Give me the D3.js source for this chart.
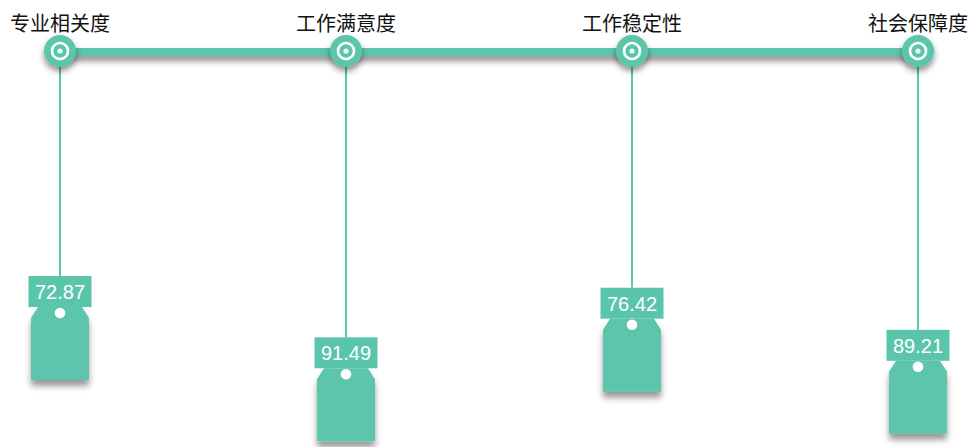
<!DOCTYPE html>
<html><head><meta charset="utf-8">
<script src="https://cdn.jsdelivr.net/npm/d3@7"></script>
<style>html,body{margin:0;padding:0;background:#fff;}</style>
</head><body>
<svg id="chart" width="972" height="447"></svg>
<script>
const categories = ["专业相关度", "工作满意度", "工作稳定性", "社会保障度"];
const values = [72.87, 91.49, 76.42, 89.21];

const color = "#5bc5ac";
const svg = d3.select("#chart");
const defs = svg.append("defs");
const f = defs.append("filter").attr("id","shadow").attr("x","-50%").attr("y","-50%").attr("width","200%").attr("height","200%");
f.append("feDropShadow").attr("dx",0).attr("dy",4).attr("stdDeviation",3).attr("flood-color","#000").attr("flood-opacity",0.45);
const f2 = defs.append("filter").attr("id","shadow2").attr("x","-50%").attr("y","-50%").attr("width","200%").attr("height","200%");
f2.append("feDropShadow").attr("dx",0).attr("dy",6).attr("stdDeviation",3).attr("flood-color","#000").attr("flood-opacity",0.4);
const f3 = defs.append("filter").attr("id","shadowLine").attr("filterUnits","userSpaceOnUse")
  .attr("x",0).attr("y",0).attr("width",972).attr("height",120);
f3.append("feDropShadow").attr("dx",0).attr("dy",5).attr("stdDeviation",3).attr("flood-color","#000").attr("flood-opacity",0.45);

const x = d3.scalePoint().domain(categories).range([60, 918]);
const y = d3.scaleLinear().domain([0, 100]).range([36.3, 365.3]);
const lineY = 52, nodeY = 51;

// horizontal line
svg.append("rect").attr("x", x(categories[0])).attr("width", x(categories[categories.length-1]) - x(categories[0]))
  .attr("y", lineY - 4).attr("height", 8).attr("fill", color)
  .attr("filter","url(#shadowLine)");

const data = categories.map((c,i)=>({c, v: values[i]}));

// vertical lines
svg.selectAll(".vl").data(data).join("line").attr("class","vl")
  .attr("x1", d=>x(d.c)).attr("x2", d=>x(d.c))
  .attr("y1", nodeY).attr("y2", d=>y(d.v))
  .attr("stroke", color).attr("stroke-width", 2);

// nodes
const nodes = svg.selectAll(".node").data(data).join("g").attr("class","node")
  .attr("transform", d=>`translate(${x(d.c)},${nodeY})`);
nodes.append("circle").attr("r", 16).attr("fill", color).attr("filter","url(#shadow)");
nodes.append("circle").attr("r", 8).attr("fill", color).attr("stroke","#fff").attr("stroke-width", 2.6);
nodes.append("circle").attr("r", 2.6).attr("fill", "#eaf8f4");

// category labels
svg.selectAll(".cat").data(data).join("text").attr("class","cat")
  .attr("x", d=>x(d.c)).attr("y", 31).attr("text-anchor","middle")
  .attr("font-family","'Noto Sans CJK SC', sans-serif").attr("font-size", 20)
  .attr("fill","#111").text(d=>d.c);

// tags
const boxH = 31, bodyH = 73, bodyW = 58, chamfX = 7, chamfY = 11;
const tags = svg.selectAll(".tag").data(data).join("g").attr("class","tag")
  .attr("transform", d=>`translate(${x(d.c)},${y(d.v)})`);
tags.append("path")
  .attr("d", `M${-bodyW/2+chamfX},${boxH} L${bodyW/2-chamfX},${boxH} L${bodyW/2},${boxH+chamfY} L${bodyW/2},${boxH+bodyH} L${-bodyW/2},${boxH+bodyH} L${-bodyW/2},${boxH+chamfY} Z`)
  .attr("fill", color).attr("filter","url(#shadow2)");
tags.append("circle").attr("cx",0).attr("cy", boxH+6).attr("r", 5.3).attr("fill","#fff");
tags.append("rect").attr("x",-31.5).attr("y",0).attr("width",63).attr("height",boxH).attr("fill",color);
tags.append("text").attr("x",0).attr("y",23).attr("text-anchor","middle")
  .attr("font-family","'Liberation Sans', Arial, sans-serif").attr("font-size",20)
  .attr("fill","#fff").text(d=>d.v.toFixed(2));
</script>
</body></html>
